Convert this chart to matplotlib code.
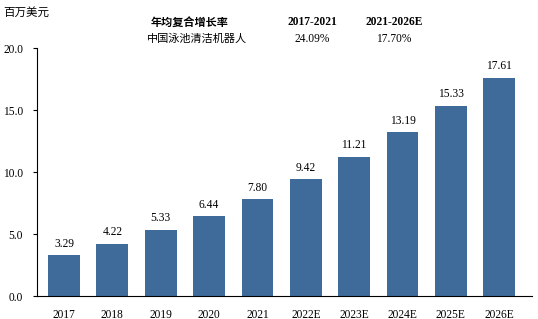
import matplotlib.pyplot as plt
import numpy as np

plt.rcParams['font.family'] = ['Liberation Serif', 'Noto Sans CJK SC']

years = ["2017", "2018", "2019", "2020", "2021", "2022E", "2023E", "2024E", "2025E", "2026E"]
values = [3.29, 4.22, 5.33, 6.44, 7.80, 9.42, 11.21, 13.19, 15.33, 17.61]
unit_label = "百万美元"
cagr_title = "年均复合增长率"
cagr_row = "中国泳池清洁机器人"
periods = ["2017-2021", "2021-2026E"]
cagr_values = ["24.09%", "17.70%"]

fig = plt.figure(figsize=(5.38, 3.19), dpi=100)
ax = fig.add_axes([0.0688, 0.0721, 0.9202, 0.7774])

x = np.arange(len(years))
bars = ax.bar(x, values, width=0.66, color="#3F6B9B")
for b, v in zip(bars, values):
    ax.text(b.get_x() + b.get_width() / 2, v + 0.45, f"{v:.2f}",
            ha="center", va="bottom", fontsize=8.3)

ax.set_xlim(-0.56, 9.68)
ax.set_ylim(0, 20)
ax.set_yticks([0, 5, 10, 15, 20])
ax.set_yticklabels([f"{t:.1f}" for t in [0, 5, 10, 15, 20]], fontsize=8.3)
ax.set_xticks(x)
ax.set_xticklabels(years, fontsize=8.3)
ax.tick_params(axis="x", length=0, pad=9)
ax.tick_params(axis="y", length=3, width=0.8, pad=7)
ax.spines["top"].set_visible(False)
ax.spines["right"].set_visible(False)
ax.spines["left"].set_linewidth(0.8)
ax.spines["bottom"].set_linewidth(0.8)

fig.text(3 / 538, 1 - 13 / 319, unit_label, fontsize=8.3, va="center", ha="left")
fig.text(190 / 538, 1 - 22 / 319, cagr_title, fontsize=8, fontweight="bold", ha="center", va="center")
fig.text(197 / 538, 1 - 39 / 319, cagr_row, fontsize=8, ha="center", va="center")
for px, p, c in zip([312, 394], periods, cagr_values):
    fig.text(px / 538, 1 - 22 / 319, p, fontsize=8.3, fontweight="bold", ha="center", va="center")
    fig.text(px / 538, 1 - 39 / 319, c, fontsize=8.3, ha="center", va="center")

fig.savefig("out.png", dpi=100)
